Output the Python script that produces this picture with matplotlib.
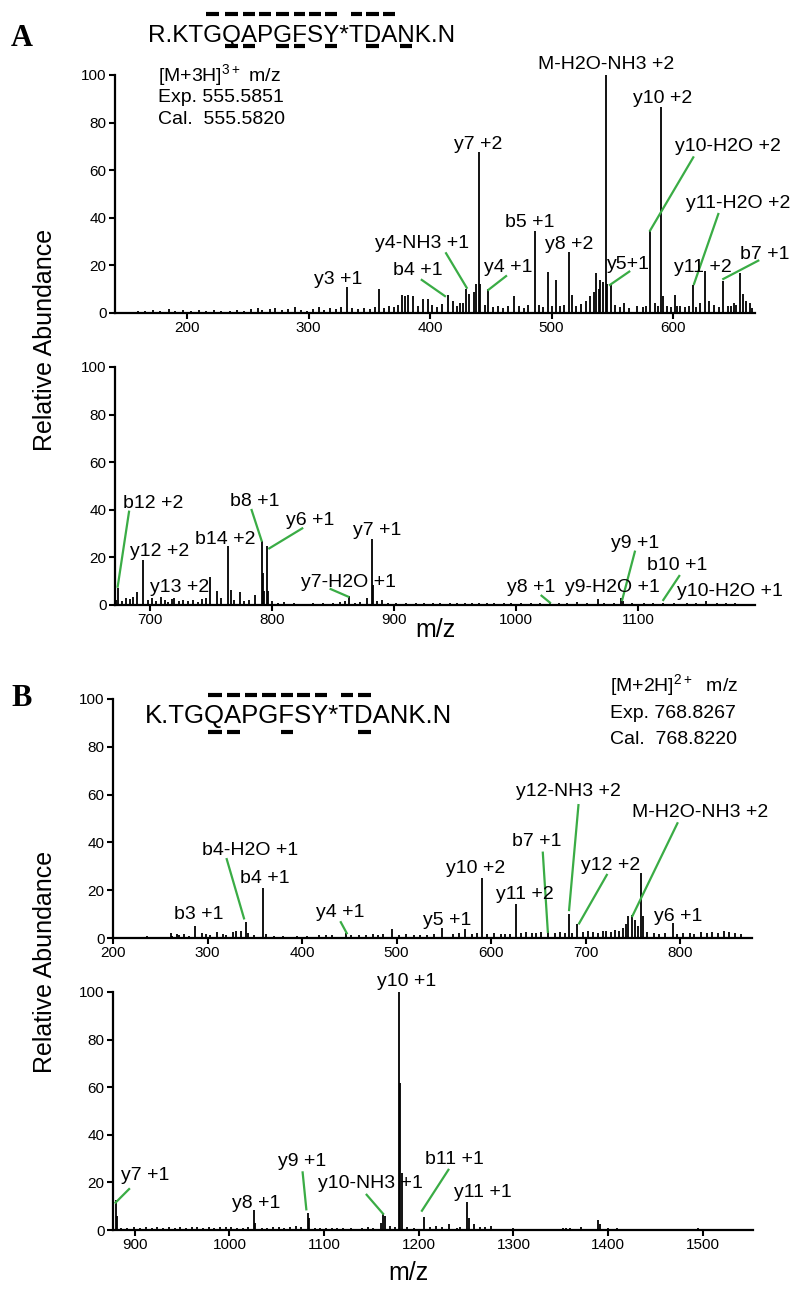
import matplotlib
matplotlib.use("Agg")
import matplotlib.pyplot as plt
from matplotlib.lines import Line2D

plt.rcParams['font.family'] = ['Liberation Sans', 'DejaVu Sans']
plt.rcParams['mathtext.fontset'] = 'custom'
plt.rcParams['mathtext.rm'] = 'Liberation Sans'
plt.rcParams['mathtext.default'] = 'regular'

# ---------------- data ----------------
# Panel A, spectrum 1 (m/z 140-667)
A1_mz = [332, 358, 377, 379.5, 382, 386, 394, 398, 415, 419, 425, 430, 432, 436, 438,
         440, 441.5, 448, 469, 486.4, 497, 504, 514, 517, 528, 532, 535, 537, 539, 540,
         542, 544.6, 546, 548.7, 560, 570, 581, 585, 590, 591.5, 595, 601.6, 606, 616.7,
         622, 626.3, 630, 641.4, 645, 650, 655, 658, 660, 663]
A1_int = [11, 10, 7.5, 7, 7.5, 7, 6, 6, 7.5, 5, 4, 10, 8, 9, 12,
          67.8, 12, 10, 7, 34.6, 17.4, 14, 25.5, 7.6, 5, 7, 9, 16.7, 10, 14,
          13, 100, 12, 11.8, 4, 3, 34.9, 4, 86.7, 7, 3, 7.6, 3, 11.8,
          4, 17.8, 5, 13.6, 3, 4, 17, 8, 5, 4]
A1_noise_mz = [160, 165, 172, 178, 185, 190, 197, 203, 210, 216, 222, 228, 235, 241, 247,
               253, 258, 262, 268, 272, 278, 283, 289, 294, 299, 304, 309, 313, 318, 323,
               327, 336, 341, 346, 351, 355, 362, 366, 370, 374, 390, 402, 406, 410, 422,
               427, 445, 452, 456, 460, 464, 473, 477, 481, 490, 493, 500, 507, 510, 520,
               524, 552, 556, 564, 575, 578, 588, 598, 603, 610, 613, 619, 634, 638, 648,
               652, 665]
A1_noise_int = [1, 0.8, 1.2, 0.9, 1.5, 0.8, 1.1, 0.7, 1.3, 0.9, 1.2, 0.8, 1.0, 1.4, 0.9,
                1.6, 2.2, 1.2, 1.5, 2.0, 1.1, 1.7, 2.4, 1.2, 1.0, 1.8, 2.6, 1.4, 2.1, 1.5,
                2.7, 2.0, 1.5, 2.2, 1.8, 2.5, 2.0, 2.8, 2.4, 3.5, 3.0, 3.2, 2.5, 3.6, 3.0,
                4.0, 3.5, 2.5, 3.0, 2.2, 3.0, 2.8, 2.0, 3.2, 3.5, 2.4, 3.0, 2.8, 3.5, 3.0,
                3.8, 3.2, 2.6, 2.0, 2.5, 3.0, 2.8, 2.5, 3.0, 2.4, 3.0, 2.6, 3.2, 2.5, 2.8,
                3.5, 2.0]

# Panel A, spectrum 2 (m/z 671-1196)
A2_mz = [669, 674, 680, 689, 694, 709, 720, 749, 754.7, 763.7, 766, 773.8, 786, 791.5,
         792.4, 793.5, 795.6, 797, 863.4, 877.6, 881.7, 883, 890, 1027.9, 1067, 1086.5,
         1088, 1120.7, 1156]
A2_int = [4, 7, 3, 5.6, 18.9, 3.5, 3, 11.9, 6, 24.8, 6.3, 5.5, 4, 27,
          13.6, 6, 24.8, 6, 3.9, 3, 27.7, 8.3, 2, 1, 2.4, 2.8,
          1.5, 1, 1.5]
A2_noise_mz = [672, 677, 684, 686, 698, 702, 705, 712, 715, 718, 724, 727, 731, 735, 739,
               743, 746, 758, 769, 777, 781, 800, 805, 810, 818, 826, 834, 842, 850, 856,
               860, 868, 872, 886, 895, 902, 910, 918, 925, 932, 938, 946, 952, 958, 964,
               970, 976, 982, 990, 996, 1004, 1012, 1020, 1035, 1042, 1050, 1058, 1072,
               1080, 1095, 1105, 1112, 1130, 1140, 1148, 1165, 1172, 1180]
A2_noise_int = [2, 1.5, 2.5, 3.5, 2, 2.8, 1.5, 2, 1.2, 2.5, 1.8, 2.2, 1.5, 2, 1.4,
                2.5, 3, 3, 2, 1.5, 2, 1.8, 1, 1.2, 0.8, 0.6, 1, 0.8, 1, 1.2,
                1.5, 1, 1.3, 1.5, 1, 1, 0.8, 1, 0.7, 1, 0.8, 0.9, 0.7, 0.8, 1,
                0.7, 0.8, 0.9, 0.7, 0.8, 0.7, 0.9, 0.8, 0.8, 0.9, 1.2, 0.8, 1,
                0.8, 0.9, 0.8, 1, 0.8, 0.9, 1, 0.8, 0.9, 0.7]

# Panel B, spectrum 1 (m/z 200-876)
B1_mz = [235.6, 261, 268, 275, 286.8, 294, 310, 327, 330, 335, 340.4, 343, 358.4, 362,
         447, 494.9, 548.5, 572.5, 590.8, 626, 660, 682.5, 691.3, 735, 740, 743, 745.3,
         748.9, 752.4, 755.9, 758.7, 760.5, 791.9]
B1_int = [1, 2, 1.8, 1.5, 5.2, 2, 2.5, 2.5, 2.8, 3, 6.5, 2, 20.8, 1.5,
          2, 3.6, 4, 3.6, 25, 14.1, 3, 10, 5.9, 3, 4, 6, 9,
          9.7, 7.5, 5, 27, 9, 6.1]
B1_noise_mz = [262, 270, 280, 298, 303, 316, 320, 349, 370, 380, 395, 405, 418, 425, 432,
               452, 460, 468, 475, 480, 486, 503, 510, 518, 525, 532, 540, 560, 566, 580,
               585, 596, 603, 610, 615, 620, 632, 637, 643, 648, 653, 668, 673, 678, 686,
               697, 702, 708, 713, 718, 722, 727, 731, 765, 772, 778, 784, 797, 803, 810,
               815, 822, 828, 834, 840, 846, 852, 858, 864]
B1_noise_int = [1, 1.2, 1, 1.5, 1.2, 1.8, 1.3, 1.2, 1, 0.8, 0.9, 1, 1.2, 1.1, 1.3,
                1.3, 1.1, 1.2, 1.5, 1.2, 1.6, 1.4, 1.8, 1.2, 1.4, 1.1, 1.5, 1.8, 2, 1.6,
                2, 1.5, 2, 1.6, 1.8, 1.5, 2, 2.5, 2.2, 2, 2.4, 2.2, 2.6, 2, 2,
                2.4, 2.8, 2.5, 2.2, 2.8, 3, 2.6, 3.2, 2.4, 2.2, 1.8, 2, 1.8, 2, 2.2,
                1.5, 2.4, 2, 2.6, 2.2, 2.8, 2.4, 2, 1.6]

# Panel B, spectrum 2 (m/z 877-1553)
B2_mz = [879.7, 881, 1025.9, 1027, 1082.9, 1084.5, 1160, 1162.7, 1164, 1179.1, 1180.5,
         1182, 1205, 1232, 1250.9, 1252.5, 1258.6, 1276, 1299.5, 1352, 1356, 1360, 1371,
         1389.7, 1391, 1400, 1409, 1494.7]
B2_int = [12.5, 6, 8.4, 3, 7, 5, 3, 7, 6, 100, 61.6,
          24, 5.6, 2.5, 11.6, 5, 2.5, 1.5, 1, 1, 1, 1, 1.3,
          4, 2.5, 1, 1, 1]
B2_noise_mz = [885, 892, 899, 905, 912, 918, 924, 930, 936, 942, 948, 954, 960, 966, 972,
               978, 984, 990, 996, 1002, 1008, 1014, 1020, 1034, 1040, 1046, 1052, 1058,
               1064, 1070, 1076, 1090, 1096, 1102, 1108, 1114, 1120, 1128, 1140, 1146,
               1152, 1170, 1175, 1188, 1195, 1212, 1218, 1225, 1240, 1244, 1265, 1270]
B2_noise_int = [1, 0.8, 1.2, 1, 1.3, 0.9, 1.2, 1, 1.1, 0.9, 1.2, 1, 1.1, 1.3, 1,
                1.2, 1, 1.3, 1.1, 1.2, 0.9, 1, 1.2, 1, 0.8, 1.1, 1.2, 1,
                1.3, 1.5, 1.2, 1, 0.8, 0.9, 0.7, 1, 0.8, 0.7, 1, 1.2,
                0.9, 1.5, 1.2, 1.3, 1, 1.2, 1.5, 1.4, 1, 1.2, 1.2, 1.1]

# ion labels (text) and their placement
A1_labels = ["y3 +1", "b4 +1", "y4-NH3 +1", "y7 +2", "y4 +1", "b5 +1", "y8 +2",
             "M-H2O-NH3 +2", "y5+1", "y10 +2", "y10-H2O +2", "y11-H2O +2", "y11 +2", "b7 +1"]
A1_lab_x = [324.5, 390, 393.4, 439.8, 464, 482.3, 514.7, 544.6, 563.2, 591.5, 645.5, 653.8, 625, 675.7]
A1_lab_y = [13.9, 17.8, 29.3, 70.6, 19.2, 38, 28.9, 104.6, 20.5, 90.2, 69.9, 46.1, 19, 24.7]
A1_leaders = [((393.2, 13.9), (412.3, 7.1)), ((413.2, 25.1), (430.2, 10.6)),
              ((462.6, 15.5), (448, 9.7)), ((564, 17.4), (548.1, 11.8)),
              ((616.7, 65.4), (581.1, 34.6)), ((637.3, 41.6), (617.3, 12.2)),
              ((670.2, 22), (641.4, 14.3))]

A2_labels = ["b12 +2", "y12 +2", "y13 +2", "b14 +2", "b8 +1", "y6 +1", "y7 +1", "y7-H2O +1",
             "y8 +1", "y9 +1", "y9-H2O +1", "b10 +1", "y10-H2O +1"]
A2_lab_x = [702.7, 707.6, 724, 761.5, 786, 831.7, 886.3, 862.5, 1012.3, 1097.5, 1079.3, 1132.2, 1175.4]
A2_lab_y = [42.7, 22.4, 7.3, 27.6, 43.4, 35.7, 31.5, 9.5, 7.3, 25.9, 7.3, 16.5, 5.6]
A2_leaders = [((682.8, 39.2), (673.5, 7.7)), ((783.3, 39.9), (791.5, 27)),
              ((824.8, 32.2), (797.8, 23.8)), ((848.1, 6.7), (862.5, 3.5)),
              ((1021, 3.9), (1027.9, 1)), ((1097.5, 22.4), (1087.1, 2.1)),
              ((1133.9, 12.2), (1120.8, 2.1))]

B1_labels = ["b3 +1", "b4-H2O +1", "b4 +1", "y4 +1", "y5 +1", "y10 +2", "y11 +2", "b7 +1",
             "y12-NH3 +2", "y12 +2", "M-H2O-NH3 +2", "y6 +1"]
B1_lab_x = [290.3, 345, 360.8, 440.2, 553.8, 584.1, 635.2, 648.3, 681.8, 726.6, 821.2, 797.6]
B1_lab_y = [9.9, 36.8, 25, 10.8, 7.2, 29.2, 18, 40.3, 61.2, 30.5, 52.4, 8.9]
B1_leaders = [((320.3, 33), (338.6, 8.2)), ((441, 6.6), (447.3, 2)),
              ((654.7, 35.7), (660, 2.6)), ((692.4, 55.6), (682.5, 11.7)),
              ((722.4, 26.4), (693.1, 6.1)), ((797.1, 48), (749.5, 9.2))]

B2_labels = ["y7 +1", "y8 +1", "y9 +1", "y10-NH3 +1", "y10 +1", "b11 +1", "y11 +1"]
B2_lab_x = [911.2, 1028.3, 1076.6, 1148.4, 1186.8, 1237.3, 1267.3]
B2_lab_y = [22.8, 11.3, 28.8, 19.4, 104.3, 29.8, 15.9]
B2_leaders = [((894, 17.2), (879.7, 11.5)), ((1077.3, 24.2), (1081.2, 8.7)),
              ((1144.9, 14.8), (1162.3, 6.8)), ((1231.3, 25.3), (1203.3, 8.1))]

SEQ_A = "R.KTGQAPGFSY*TDANK.N"
SEQ_A_OVER = [4, 5, 6, 7, 8, 9, 10, 11, 13, 14, 15]
SEQ_A_UNDER = [5, 6, 8, 9, 11, 14, 16]
SEQ_B = "K.TGQAPGFSY*TDANK.N"
SEQ_B_OVER = [4, 5, 6, 7, 8, 9, 10, 12, 13]
SEQ_B_UNDER = [4, 5, 8, 13]

INFO_A = ["[M+3H]$^{3+}$ m/z", "Exp. 555.5851", "Cal.  555.5820"]
INFO_B = ["[M+2H]$^{2+}$  m/z", "Exp. 768.8267", "Cal.  768.8220"]

# ---------------- drawing ----------------
W, H = 800, 1293
fig = plt.figure(figsize=(W / 100, H / 100), dpi=100)
GREEN = "#3aac45"


def add_ax(l, t, r, b):
    return fig.add_axes([l / W, 1 - b / H, (r - l) / W, (b - t) / H])


def style(ax, xlim, xticks):
    ax.set_xlim(*xlim)
    ax.set_ylim(0, 100)
    for s in ("top", "right"):
        ax.spines[s].set_visible(False)
    for s in ("left", "bottom"):
        ax.spines[s].set_linewidth(1.6)
    ax.set_yticks([0, 20, 40, 60, 80, 100])
    ax.set_xticks(xticks)
    ax.tick_params(direction="out", length=4, width=1.5, labelsize=11, pad=2)
    ax.patch.set_alpha(0)


def draw(ax, mz, inten, nmz, nint, labels, lx, ly, leaders):
    ax.vlines(nmz, 0, nint, colors="black", lw=1.3)
    ax.vlines(mz, 0, inten, colors="black", lw=1.3)
    for (x0, y0), (x1, y1) in leaders:
        ax.plot([x0, x1], [y0, y1], color=GREEN, lw=1.6, clip_on=False, zorder=3)
    for t, x, y in zip(labels, lx, ly):
        ax.text(x, y, t, ha="center", va="center", fontsize=14, zorder=4)


axA1 = add_ax(115, 75, 755, 313)
axA2 = add_ax(115, 367, 755, 605)
axB1 = add_ax(113, 699, 752, 938)
axB2 = add_ax(113, 992, 753, 1230)

style(axA1, (140.7, 667.5), [200, 300, 400, 500, 600])
style(axA2, (671.3, 1196), [700, 800, 900, 1000, 1100])
style(axB1, (200, 876), [200, 300, 400, 500, 600, 700, 800])
style(axB2, (877, 1553), [900, 1000, 1100, 1200, 1300, 1400, 1500])

draw(axA1, A1_mz, A1_int, A1_noise_mz, A1_noise_int, A1_labels, A1_lab_x, A1_lab_y, A1_leaders)
draw(axA2, A2_mz, A2_int, A2_noise_mz, A2_noise_int, A2_labels, A2_lab_x, A2_lab_y, A2_leaders)
draw(axB1, B1_mz, B1_int, B1_noise_mz, B1_noise_int, B1_labels, B1_lab_x, B1_lab_y, B1_leaders)
draw(axB2, B2_mz, B2_int, B2_noise_mz, B2_noise_int, B2_labels, B2_lab_x, B2_lab_y, B2_leaders)


def ftext(x, y, s, **kw):
    return fig.text(x / W, 1 - y / H, s, **kw)


# panel letters
ftext(22, 46, "A", fontsize=22, fontweight="bold", family="Liberation Serif", ha="center", va="baseline")
ftext(22, 706, "B", fontsize=22, fontweight="bold", family="Liberation Serif", ha="center", va="baseline")

# y labels and x labels
ftext(45, 340, "Relative Abundance", fontsize=18, rotation=90, ha="center", va="center")
ftext(45, 962, "Relative Abundance", fontsize=18, rotation=90, ha="center", va="center")
ftext(435, 630, "m/z", fontsize=18, ha="center", va="center")
ftext(408, 1273, "m/z", fontsize=18, ha="center", va="center")

# info blocks
for s, y in zip(INFO_A, [75, 97, 120]):
    ftext(158, y, s, fontsize=14, ha="left", va="center")
for s, y in zip(INFO_B, [685, 713, 739]):
    ftext(610, y, s, fontsize=14, ha="left", va="center")

renderer = fig.canvas.get_renderer()


def sequence(x, ybase, s, size, over, under, yover, yunder):
    ftext(x, ybase, s, fontsize=size, ha="left", va="baseline")

    def width(sub):
        if not sub:
            return 0.0
        t = fig.text(0, 0, sub, fontsize=size)
        w = t.get_window_extent(renderer).width
        t.remove()
        return w

    for idxs, yy in ((over, yover), (under, yunder)):
        for i in idxs:
            a = x + width(s[:i])
            b = x + width(s[:i + 1])
            pad = (b - a) * 0.14
            fig.add_artist(Line2D([(a + pad) / W, (b - pad) / W], [1 - yy / H, 1 - yy / H],
                                  transform=fig.transFigure, color="black", lw=3.0,
                                  solid_capstyle="butt"))


sequence(148, 42, SEQ_A, 17.5, SEQ_A_OVER, SEQ_A_UNDER, 14, 45.5)
sequence(145, 723, SEQ_B, 18.5, SEQ_B_OVER, SEQ_B_UNDER, 695, 732)

fig.savefig("out.png", dpi=100)
